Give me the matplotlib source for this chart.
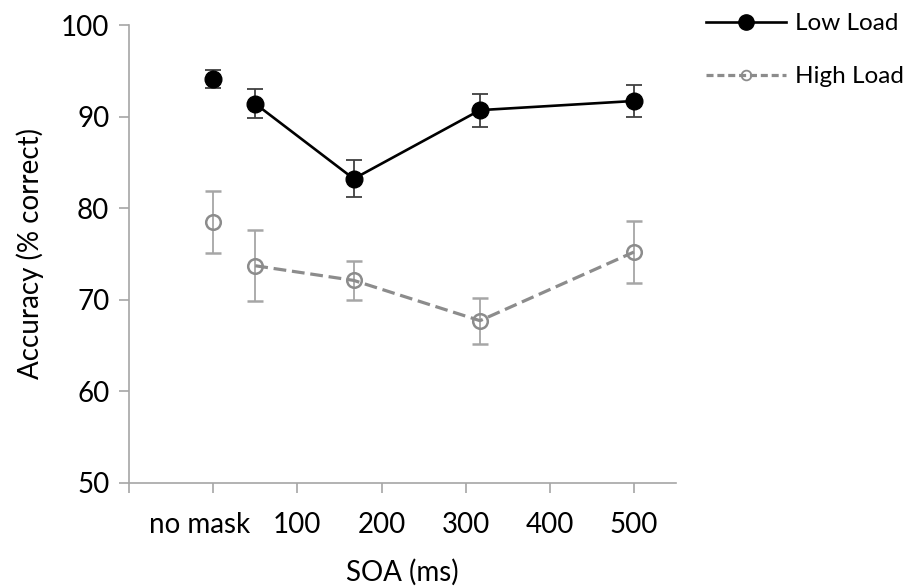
import matplotlib
matplotlib.use("Agg")
import matplotlib.pyplot as plt
import matplotlib.transforms as mtransforms
from matplotlib.lines import Line2D

plt.rcParams['font.family'] = ['Lato', 'DejaVu Sans']

# Conditions: "no mask" is plotted at 0 and left unconnected
nomask_x = 0
soa_ms = [50, 167, 317, 500]

low_nomask, low_nomask_err = 94.1, 1.0
low_load = [91.4, 83.2, 90.7, 91.7]
low_err = [1.6, 2.0, 1.8, 1.7]

high_nomask, high_nomask_err = 78.5, 3.4
high_load = [73.7, 72.1, 67.7, 75.2]
high_err = [3.9, 2.1, 2.5, 3.4]

x_ticks = [-100, 0, 100, 200, 300, 400, 500]
x_ticklabels = ['', 'no mask', '100', '200', '300', '400', '500']
y_ticks = [50, 60, 70, 80, 90, 100]

axis_grey = '#a6a6a6'
dark = '#000000'
bar_dark = '#404040'
light = '#8c8c8c'
bar_light = '#a6a6a6'

fig = plt.figure(figsize=(9.1, 5.87), dpi=100)
ax = fig.add_axes([0.1418, 0.1777, 0.6011, 0.7797])

# Low load
ax.errorbar([nomask_x], [low_nomask], yerr=[low_nomask_err], fmt='o',
            color=dark, ms=12, ecolor=bar_dark, elinewidth=1.3,
            capsize=5.5, capthick=1.3, zorder=4)
ax.errorbar(soa_ms, low_load, yerr=low_err, fmt='-o', color=dark, lw=1.9,
            ms=12, ecolor=bar_dark, elinewidth=1.3, capsize=5.5,
            capthick=1.3, zorder=4)

# High load
ax.errorbar([nomask_x], [high_nomask], yerr=[high_nomask_err], fmt='o',
            color=light, ms=10.5, mfc='none', mec=light, mew=1.8,
            ecolor=bar_light, elinewidth=1.3, capsize=5.5, capthick=1.3,
            zorder=3)
ax.errorbar(soa_ms, high_load, yerr=high_err, fmt='o', ls=(0, (4, 1.8)),
            color=light, lw=2.3, ms=10.5, mfc='none', mec=light, mew=1.8,
            ecolor=bar_light, elinewidth=1.3, capsize=5.5, capthick=1.3,
            zorder=3)

ax.set_xlim(-100, 550)
ax.set_ylim(50, 100)
ax.set_xticks(x_ticks)
ax.set_xticklabels(x_ticklabels)
ax.set_yticks(y_ticks)

for side in ('top', 'right'):
    ax.spines[side].set_visible(False)
for side in ('left', 'bottom'):
    ax.spines[side].set_color(axis_grey)
    ax.spines[side].set_linewidth(1.2)

ax.tick_params(axis='both', direction='out', length=7.2, width=1.2,
               color=axis_grey, labelsize=20, labelcolor='#000000', pad=7)
ax.tick_params(axis='x', pad=14)

# nudge the "no mask" label a little to the left of its tick
shift = mtransforms.ScaledTranslation(-14 / 100, 0, fig.dpi_scale_trans)
for lab in ax.get_xticklabels():
    if lab.get_text() == 'no mask':
        lab.set_transform(lab.get_transform() + shift)

ax.set_xlabel('SOA (ms)', fontsize=20, labelpad=15)
ax.set_ylabel('Accuracy (% correct)', fontsize=20, labelpad=12)

# Legend
handles = [
    Line2D([], [], color=dark, lw=1.9, marker='o', ms=11),
    Line2D([], [], color=light, lw=2.3, ls=(0, (2.2, 1.2)), marker='o',
           ms=7, mfc='none', mec=light, mew=1.3),
]
ax.legend(handles, ['Low Load', 'High Load'], loc='upper left',
          bbox_to_anchor=(706 / 910, 1 - 13 / 587),
          bbox_transform=fig.transFigure, frameon=False, fontsize=17.5,
          handlelength=3.3, handletextpad=0.37, labelspacing=1.33,
          borderpad=0, borderaxespad=0)

fig.savefig('out.png', dpi=100)
